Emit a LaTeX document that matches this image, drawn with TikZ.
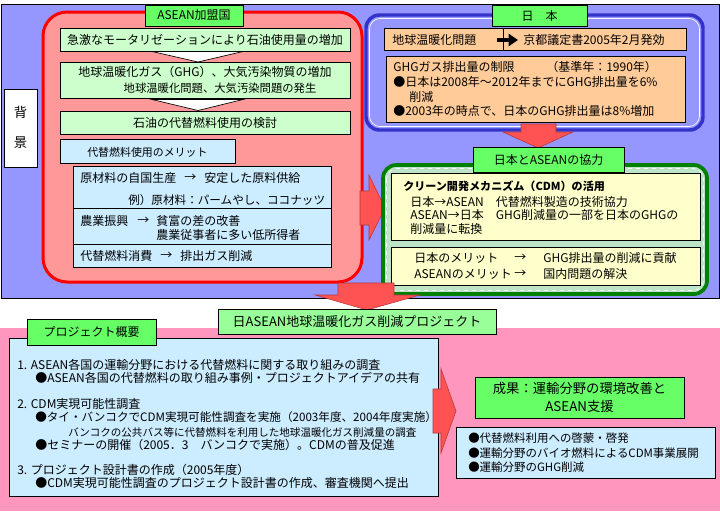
\documentclass[tikz,border=0pt]{standalone}
\usepackage{fontspec}
\setmainfont{Noto Sans CJK JP}
\usetikzlibrary{arrows.meta}
\definecolor{bgblue}{RGB}{150,150,255}
\definecolor{bgpink}{RGB}{255,150,190}
\definecolor{aseanfill}{RGB}{255,153,153}
\definecolor{aseanred}{RGB}{255,0,0}
\definecolor{lblgreen}{RGB}{102,255,102}
\definecolor{palegreen}{RGB}{204,255,204}
\definecolor{paleblue}{RGB}{204,236,255}
\definecolor{peach}{RGB}{255,204,153}
\definecolor{paleyellow}{RGB}{255,255,204}
\definecolor{titlegreen}{RGB}{153,255,153}
\definecolor{arrowred}{RGB}{255,82,82}
\definecolor{darkgreen}{RGB}{0,128,0}
\definecolor{jpblue}{RGB}{51,51,204}
\definecolor{coopfill}{RGB}{190,228,200}
\newcommand\myfs[1]{\fontsize{#1}{#1}\selectfont}
\newcommand\mybox[7]{\node[#6, anchor=north west, inner sep=0pt, outer sep=0pt, minimum width={(#4-#2)*0.75pt}, minimum height={(#5-#3)*0.75pt}] (#1) at (#2,#3) {#7};}
\tikzset{
  bx/.style={draw=black, line width=0.75pt},
  lbl/.style={bx, fill=lblgreen, font=\myfs{9}},
  tx/.style={anchor=west, inner sep=0pt, font=\myfs{9}},
  sm/.style={anchor=west, inner sep=0pt, font=\myfs{7.9}},
  redarrow/.style={fill=arrowred, draw=arrowred!70!black, line width=0.4pt},
  chevron/.style={fill=white, draw=black, line width=0.5pt},
}
\begin{document}
\begin{tikzpicture}[x=0.75pt,y=-0.75pt]
\useasboundingbox (0,0) rectangle (720,511);
% regions
\fill[bgblue] (1,4) rectangle (719,298);
\draw[black, line width=0.75pt] (1,4) rectangle (719,298);
\fill[bgpink] (0,328) rectangle (720,511);

% background label
\mybox{haikei}{4}{89}{37}{167}{bx, fill=white}{}
\node[inner sep=0pt, font=\myfs{10}] (haikei1) at (20.5,112) {背};
\node[inner sep=0pt, font=\myfs{10}] (haikei2) at (20.5,143) {景};

% ASEAN block
\mybox{asean}{43}{12}{362}{282}{draw=aseanred, line width=2.25pt, fill=aseanfill, rounded corners=18pt}{}
\mybox{aseanlbl}{145}{5}{243}{26}{lbl}{ASEAN加盟国}
\mybox{a1}{60}{28}{350}{51}{bx, fill=palegreen, font=\myfs{9}}{急激なモータリゼーションにより石油使用量の増加}
\mybox{a2}{60}{62}{350}{98}{bx, fill=palegreen}{}
\node[inner sep=0pt, font=\myfs{9}] (a2t1) at (205,72) {地球温暖化ガス（GHG）、大気汚染物質の増加};
\node[inner sep=0pt, font=\myfs{8.5}] (a2t2) at (220,88) {地球温暖化問題、大気汚染問題の発生};
\mybox{a3}{60}{111}{350}{134}{bx, fill=palegreen, font=\myfs{9}}{石油の代替燃料使用の検討}
\draw[chevron] (152,51.5) -- (243,51.5) -- (198,62) -- cycle;
\draw[chevron] (152,99.5) -- (243,99.5) -- (198,110.5) -- cycle;
\mybox{a4}{60}{139}{235}{163}{bx, fill=paleblue}{}
\node[tx, font=\myfs{8.2}] (a4t) at (87,152) {代替燃料使用のメリット};
\mybox{a5}{73}{166}{331}{267}{bx, fill=paleblue}{}
\draw[black, line width=0.75pt] (73,208) -- (331,208);
\draw[black, line width=0.75pt] (73,244) -- (331,244);
\node[tx] (m1) at (80,178) {原材料の自国生産};
\node[tx] (m1a) at (184,178) {→};
\node[tx] (m1b) at (204,178) {安定した原料供給};
\node[tx, font=\myfs{8.7}] (m2) at (128,200) {例）原材料：パームやし、ココナッツ};
\node[tx] (m3) at (80,221) {農業振興};
\node[tx] (m3a) at (137,221) {→};
\node[tx] (m3b) at (156,221) {貧富の差の改善};
\node[tx] (m3c) at (156,235) {農業従事者に多い低所得者};
\node[tx] (m4) at (80,256) {代替燃料消費};
\node[tx] (m4a) at (160,256) {→};
\node[tx] (m4b) at (180,256) {排出ガス削減};

% Japan block
\mybox{japan}{366}{15}{703}{130}{draw=jpblue, line width=2.6pt, fill=bgblue, rounded corners=10pt}{}
\draw[white, line width=0.5pt, rounded corners=8pt] (369.5,18.5) rectangle (699.5,126.5);
\mybox{jplbl}{492}{5}{587}{26}{lbl}{日　本}
\mybox{j1}{384}{28}{686}{50}{bx, fill=peach}{}
\draw[black, line width=0.75pt] (503,28) -- (503,50);
\node[tx] (j1a) at (392,40) {地球温暖化問題};
\coordinate (jarrs) at (497,40);
\coordinate (jarre) at (518,40);
\draw[line width=2.4pt, -{Triangle[length=7pt,width=9pt]}] (jarrs) -- (jarre);
\node[tx] (j1b) at (523,40) {京都議定書2005年2月発効};
\mybox{j2}{386}{56}{685}{122}{bx, fill=peach}{}
\node[tx] (j2a) at (393,67) {GHGガス排出量の制限};
\node[tx] (j2b) at (546,67) {（基準年：1990年）};
\node[tx] (j2c) at (393,82) {●日本は2008年〜2012年までにGHG排出量を6\%};
\node[tx] (j2d) at (409,97) {削減};
\node[tx] (j2e) at (393,111) {●2003年の時点で、日本のGHG排出量は8\%増加};

% arrow Japan -> cooperation
\draw[redarrow] (521,124) -- (556,124) -- (556,132) -- (573,132) -- (538,148) -- (503,132) -- (521,132) -- cycle;

% arrow ASEAN -> cooperation
\draw[redarrow] (360,191) -- (369,191) -- (369,175) -- (385,208) -- (369,240) -- (369,225) -- (360,225) -- cycle;

% cooperation block
\mybox{coop}{383}{165}{707}{294}{draw=darkgreen, line width=2.8pt, fill=coopfill, rounded corners=10pt}{}
\draw[white, line width=0.5pt, dashed, rounded corners=8pt] (386.5,168.5) rectangle (703.5,290.5);
\mybox{cooplbl}{473}{147}{624}{172}{lbl}{日本とASEANの協力}
\mybox{c1}{391}{173}{700}{240}{bx, fill=paleyellow}{}
\node[tx, font=\myfs{8.3}\bfseries] (c1a) at (403,186) {クリーン開発メカニズム（CDM）の活用};
\node[tx] (c1b) at (410,202) {日本→ASEAN　代替燃料製造の技術協力};
\node[tx] (c1c) at (410,215) {ASEAN→日本　GHG削減量の一部を日本のGHGの};
\node[tx] (c1d) at (410,229) {削減量に転換};
\mybox{c2}{391}{247}{700}{285}{bx, fill=paleyellow}{}
\node[tx] (c2a) at (414,258) {日本のメリット};
\node[tx] (c2b) at (514,258) {→};
\node[tx] (c2c) at (543,258) {GHG排出量の削減に貢献};
\node[tx] (c2d) at (414,274) {ASEANのメリット};
\node[tx] (c2e) at (514,274) {→};
\node[tx] (c2f) at (543,274) {国内問題の解決};

% big arrow down
\draw[redarrow] (338,283) -- (394,283) -- (394,295) -- (420,295) -- (367,310) -- (315,295) -- (338,295) -- cycle;
\mybox{title}{218}{309}{496}{334}{bx, fill=titlegreen, font=\myfs{9.75}}{日ASEAN地球温暖化ガス削減プロジェクト}

% project overview
\mybox{proj}{9}{338}{438}{496}{bx, fill=paleblue}{}
\mybox{projlbl}{27}{319}{156}{345}{lbl}{プロジェクト概要}
\node[tx] (p1) at (17,365) {1. ASEAN各国の運輸分野における代替燃料に関する取り組みの調査};
\node[tx] (p1a) at (35,378) {●ASEAN各国の代替燃料の取り組み事例・プロジェクトアイデアの共有};
\node[tx] (p2) at (17,404) {2. CDM実現可能性調査};
\node[tx, font=\myfs{8.7}] (p2a) at (35,417) {●タイ・バンコクでCDM実現可能性調査を実施（2003年度、2004年度実施）};
\node[sm] (p2b) at (68,432) {バンコクの公共バス等に代替燃料を利用した地球温暖化ガス削減量の調査};
\node[tx] (p2c) at (35,445) {●セミナーの開催（2005．3　バンコクで実施）。CDMの普及促進};
\node[tx] (p3) at (17,470) {3. プロジェクト設計書の作成（2005年度）};
\node[tx] (p3a) at (35,483) {●CDM実現可能性調査のプロジェクト設計書の作成、審査機関へ提出};

% arrow to results
\draw[redarrow] (433,389) -- (441,389) -- (441,369) -- (456,411) -- (441,453) -- (441,433) -- (433,433) -- cycle;

% results
\mybox{res}{475}{377}{684}{418}{bx, fill=lblgreen, font=\myfs{10}, align=center}{成果：運輸分野の環境改善と\\[3pt]ASEAN支援}
\mybox{resl}{456}{427}{715}{478}{bx, fill=paleblue}{}
\node[tx, font=\myfs{8.6}] (r1) at (468,438) {●代替燃料利用への啓蒙・啓発};
\node[tx, font=\myfs{8.6}] (r2) at (468,453) {●運輸分野のバイオ燃料によるCDM事業展開};
\node[tx, font=\myfs{8.6}] (r3) at (468,467) {●運輸分野のGHG削減};
\end{tikzpicture}
\end{document}
